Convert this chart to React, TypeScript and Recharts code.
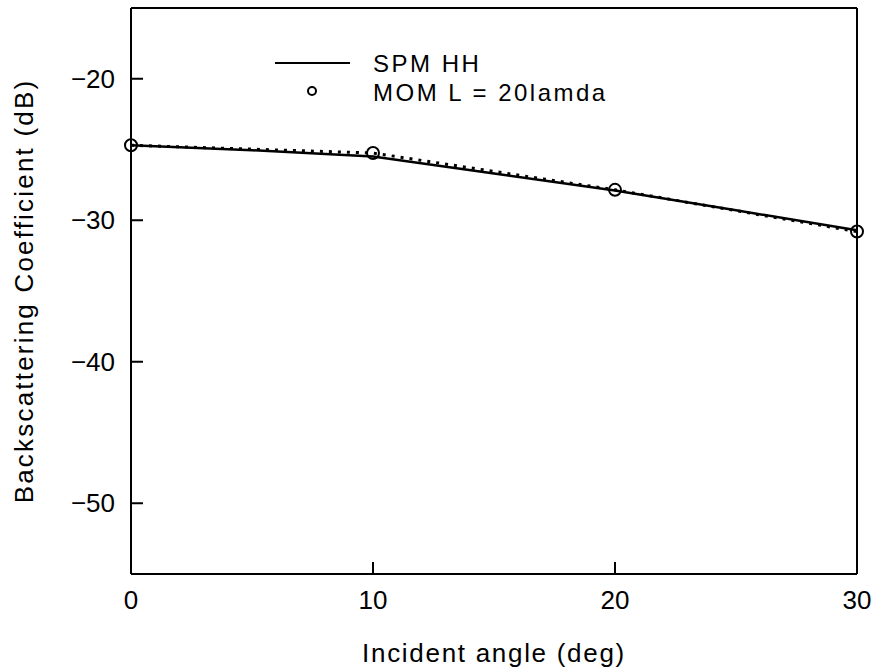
import React from 'react';
import { LineChart, Line, XAxis, YAxis } from 'recharts';

// SPM HH (solid line)
const spmAngles = [0, 5, 10, 15, 20, 25, 30];
const spmValues = [-24.7, -25.05, -25.5, -26.7, -27.9, -29.3, -30.7];

// MOM L = 20lamda (circles, dotted)
const momAngles = [0, 10, 20, 30];
const momValues = [-24.7, -25.25, -27.85, -30.8];

const xTicks = [0, 10, 20, 30];
const xTopTicks = [10, 20];
const yTicks = [-20, -30, -40, -50];
const xDomain = [0, 30];
const yDomain = [-55, -15];

const xTitle = 'Incident angle (deg)';
const yTitle = 'Backscattering Coefficient (dB)';
const seriesNames = ['SPM HH', 'MOM L = 20lamda'];

const FONT = '"Liberation Sans", Arial, sans-serif';
const TICK_LEN = 12;
const MARGIN = 16;

const spmData = spmAngles.map((a, i) => ({ x: a, y: spmValues[i] }));
const momData = momAngles.map((a, i) => ({ x: a, y: momValues[i] }));

const fmt = (v: number) => (v < 0 ? '\u2212' + Math.abs(v) : String(v));

const BottomTick = (props: any) => {
  const { x, y, payload } = props;
  const ay = y - MARGIN;
  return (
    <g>
      <line x1={x} x2={x} y1={ay} y2={ay - TICK_LEN} stroke="#000" strokeWidth={2} />
      <text x={x} y={y + 19} textAnchor="middle" fontSize={26} fontFamily={FONT} fill="#000">
        {fmt(payload.value)}
      </text>
    </g>
  );
};

const LeftTick = (props: any) => {
  const { x, y, payload } = props;
  const ax = x + MARGIN;
  return (
    <g>
      <line x1={ax} x2={ax + TICK_LEN} y1={y} y2={y} stroke="#000" strokeWidth={2} />
      <text x={x} y={y + 9} textAnchor="end" fontSize={26} fontFamily={FONT} fill="#000">
        {fmt(payload.value)}
      </text>
    </g>
  );
};

const TopTick = (props: any) => {
  const { x, y } = props;
  return <line x1={x} x2={x} y1={y} y2={y + TICK_LEN} stroke="#000" strokeWidth={2} />;
};

const RightTick = (props: any) => {
  const { x, y } = props;
  return <line x1={x} x2={x - TICK_LEN} y1={y} y2={y} stroke="#000" strokeWidth={2} />;
};

const LegendBox = () => (
  <svg width={400} height={64} style={{ display: 'block' }}>
    <line x1={5} x2={80} y1={18} y2={18} stroke="#000" strokeWidth={2} />
    <text x={103} y={27} fontSize={24} fontFamily={FONT} letterSpacing={2.5} fill="#000">
      {seriesNames[0]}
    </text>
    <circle cx={42} cy={46} r={4} fill="none" stroke="#000" strokeWidth={2} />
    <text x={103} y={56} fontSize={24} fontFamily={FONT} letterSpacing={2.5} fill="#000">
      {seriesNames[1]}
    </text>
  </svg>
);

export default function App() {
  return (
    <div style={{ position: 'absolute', left: 0, top: 0, width: 877, height: 671, background: '#fff' }}>
      <LineChart width={877} height={671} margin={{ top: 7, right: 19, bottom: 0, left: 0 }}>
        <XAxis
          dataKey="x"
          type="number"
          domain={xDomain}
          ticks={xTicks}
          height={97}
          tickSize={0}
          tickMargin={MARGIN}
          tick={<BottomTick />}
          tickLine={false}
          axisLine={{ stroke: '#000', strokeWidth: 2 }}
          label={{
            content: (props: any) => {
              const vb = props.viewBox;
              return (
                <text
                  x={vb.x + vb.width / 2}
                  y={vb.y + 88}
                  textAnchor="middle"
                  fontSize={26}
                  fontFamily={FONT}
                  letterSpacing={1.7}
                  fill="#000"
                >
                  {xTitle}
                </text>
              );
            },
          }}
        />
        <XAxis
          xAxisId="top"
          orientation="top"
          dataKey="x"
          type="number"
          domain={xDomain}
          ticks={xTopTicks}
          height={1}
          tickSize={0}
          tickMargin={0}
          tick={<TopTick />}
          tickLine={false}
          axisLine={{ stroke: '#000', strokeWidth: 2 }}
        />
        <YAxis
          type="number"
          domain={yDomain}
          ticks={yTicks}
          width={131}
          tickSize={0}
          tickMargin={MARGIN}
          tick={<LeftTick />}
          tickLine={false}
          axisLine={{ stroke: '#000', strokeWidth: 2 }}
          label={{
            content: (props: any) => {
              const vb = props.viewBox;
              const cx = vb.x + 33;
              const cy = vb.y + vb.height / 2;
              return (
                <text
                  x={cx}
                  y={cy}
                  transform={`rotate(-90, ${cx}, ${cy})`}
                  textAnchor="middle"
                  fontSize={26}
                  fontFamily={FONT}
                  letterSpacing={2.2}
                  fill="#000"
                >
                  {yTitle}
                </text>
              );
            },
          }}
        />
        <YAxis
          yAxisId="right"
          orientation="right"
          type="number"
          domain={yDomain}
          ticks={yTicks}
          width={1}
          tickSize={0}
          tickMargin={0}
          tick={<RightTick />}
          tickLine={false}
          axisLine={{ stroke: '#000', strokeWidth: 2 }}
        />
        <Line
          data={spmData}
          dataKey="y"
          type="linear"
          stroke="#000"
          strokeWidth={2.5}
          dot={false}
          activeDot={false}
          isAnimationActive={false}
          name={seriesNames[0]}
        />
        <Line
          data={momData}
          dataKey="y"
          type="linear"
          stroke="#000"
          strokeWidth={3}
          strokeDasharray="3 6"
          dot={{ r: 6, stroke: '#000', strokeWidth: 2, fill: 'none', strokeDasharray: '' }}
          activeDot={false}
          isAnimationActive={false}
          name={seriesNames[1]}
        />
      </LineChart>
      <div style={{ position: 'absolute', left: 270, top: 45 }}>
        <LegendBox />
      </div>
    </div>
  );
}
